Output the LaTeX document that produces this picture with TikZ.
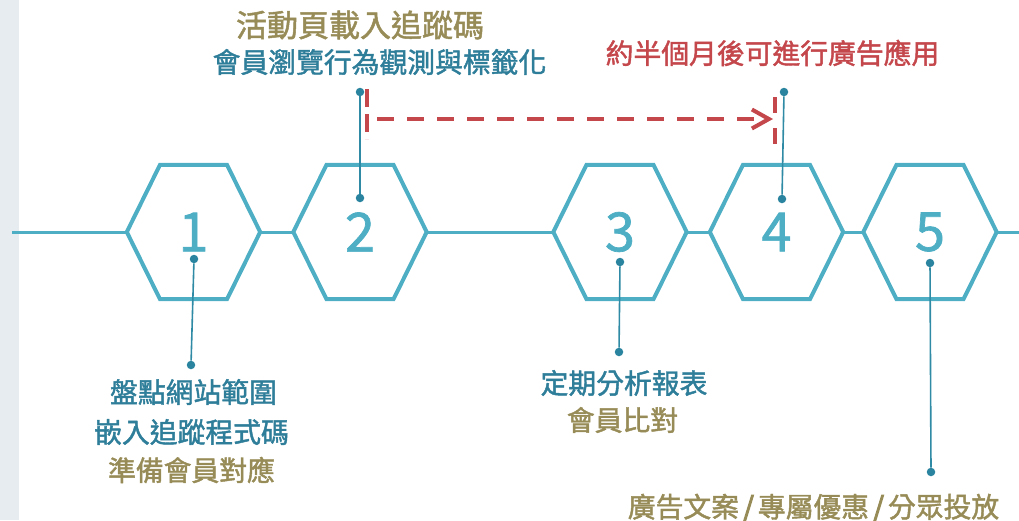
\documentclass[tikz,border=0pt]{standalone}
\usepackage{fontspec}
\newfontfamily\cjk[FakeBold=1.6]{Noto Sans CJK TC}
\newfontfamily\cjkn[FakeBold=1.3]{Noto Sans CJK TC}
\newfontfamily\cjkb[FakeBold=4]{Noto Sans CJK TC}
\usetikzlibrary{arrows.meta}
\definecolor{hexc}{HTML}{4DAEC4}
\definecolor{tealt}{HTML}{2E7E9A}
\definecolor{olivet}{HTML}{978C57}
\definecolor{redc}{HTML}{C4474C}
\definecolor{dotc}{HTML}{2A84A0}
\definecolor{stripc}{HTML}{E6ECF0}
\begin{document}
\begin{tikzpicture}[x=1pt,y=-1pt,
  hexbox/.style={draw=none,inner sep=0pt,minimum width=133pt,minimum height=134pt},
  hexline/.style={draw=hexc,line width=4pt,line join=miter},
  axis/.style={draw=hexc,line width=3pt},
  numtxt/.style={text=hexc,font=\cjkn\fontsize{54}{54}\selectfont,inner sep=0pt},
  dotn/.style={circle,fill=dotc,inner sep=0pt,minimum size=8.5pt},
  callout/.style={draw=dotc!85!hexc,line width=1.6pt},
  lbl/.style={inner sep=0pt,font=\cjk\fontsize{27.8}{27.8}\selectfont},
  reddash/.style={draw=redc,line width=3.5pt,dash pattern=on 17pt off 13pt},
]
\useasboundingbox (0,0) rectangle (1019,520);
\fill[stripc] (0,0) rectangle (19,520);

% hexagons
\foreach \n/\x in {1/193.5,2/360,3/620,4/776.5,5/930}{
  \node[hexbox] (h\n) at (\x,232) {};
  \draw[hexline] (h\n.west) -- ([xshift=-33.5pt]h\n.north) -- ([xshift=33.5pt]h\n.north)
     -- (h\n.east) -- ([xshift=33.5pt]h\n.south) -- ([xshift=-33.5pt]h\n.south) -- cycle;
  \node[numtxt] (n\n) at (\x,232) {\n};
}
\coordinate (lstart) at (12,232);
\coordinate (lend) at (1019,232);
\draw[axis] (lstart) -- (h1.west);
\draw[axis] (h1.east) -- (h2.west);
\draw[axis] (h2.east) -- (h3.west);
\draw[axis] (h3.east) -- (h4.west);
\draw[axis] (h4.east) -- (h5.west);
\draw[axis] (h5.east) -- (lend);

% callouts
\node[dotn] (d1a) at (194,259) {};
\node[dotn] (d1b) at (191,365) {};
\draw[callout] (d1a) -- (d1b);
\node[dotn] (d2a) at (360,92) {};
\node[dotn] (d2b) at (360,198) {};
\draw[callout] (d2a) -- (d2b);
\node[dotn] (d3a) at (620,262) {};
\node[dotn] (d3b) at (619,352) {};
\draw[callout] (d3a) -- (d3b);
\node[dotn] (d4a) at (784,92) {};
\node[dotn] (d4b) at (782,199) {};
\draw[callout] (d4a) -- (d4b);
\node[dotn] (d5a) at (930,263) {};
\node[dotn] (d5b) at (931,472) {};
\draw[callout] (d5a) -- (d5b);

% red dashed timing
\coordinate (rv1t) at (367,89);
\coordinate (rv1b) at (367,139);
\coordinate (rv2t) at (775,97);
\coordinate (rv2b) at (775,146);
\coordinate (rs) at (377,119);
\coordinate (re) at (773,119);
\draw[reddash,dash pattern=on 18pt off 7pt] (rv1t) -- (rv1b);
\draw[reddash,dash pattern=on 16pt off 15pt] (rv2t) -- (rv2b);
\draw[reddash,-{Straight Barb[length=17pt,width=19pt,line width=4pt]}] (rs) -- (re);

% texts
\node[lbl,text=olivet,font=\cjk\fontsize{31}{31}\selectfont] (t2a) at (360,25) {活動頁載入追蹤碼};
\node[lbl,text=tealt] (t2b) at (379.5,62) {會員瀏覽行為觀測與標籤化};
\node[lbl,text=redc] (t4) at (772.5,53) {約半個月後可進行廣告應用};
\node[lbl,text=tealt] (t1a) at (193.5,392) {盤點網站範圍};
\node[lbl,text=tealt] (t1b) at (191.5,432) {嵌入追蹤程式碼};
\node[lbl,text=olivet] (t1c) at (191.5,470) {準備會員對應};
\node[lbl,text=tealt] (t3a) at (624,383) {定期分析報表};
\node[lbl,text=olivet] (t3b) at (622.5,420) {會員比對};
\node[lbl,text=olivet] (t5) at (813.5,508) {廣告文案\hspace{4pt}{\cjkb /}\hspace{4pt}專屬優惠\hspace{4pt}{\cjkb /}\hspace{4pt}分眾投放};
\end{tikzpicture}
\end{document}
